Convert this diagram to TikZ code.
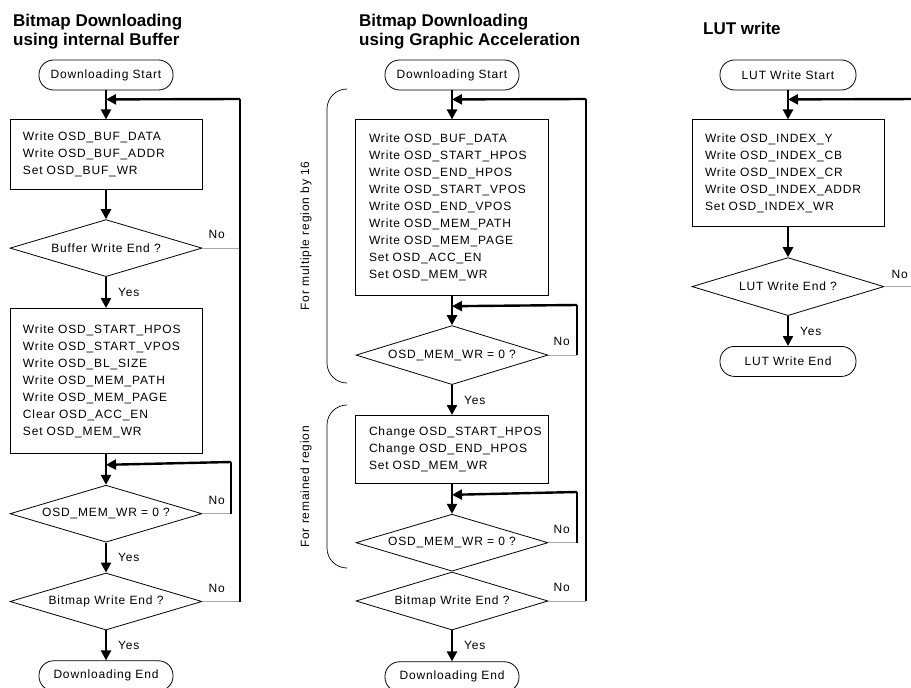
\documentclass[tikz,border=0pt]{standalone}
\usepackage{fontspec}
\setmainfont{Liberation Sans}
\newfontfamily\flowfont[LetterSpace=7]{Liberation Sans}
\usepackage{tikz}
\usetikzlibrary{positioning,arrows.meta,shapes.geometric,calc}
\definecolor{nogray}{HTML}{A8A8A8}
\newcommand{\boxfont}{\flowfont\fontsize{12}{17}\selectfont}
\newcommand{\titlefont}{\bfseries\fontsize{17}{18.5}\selectfont}
\tikzset{
  term/.style={draw, line width=0.8pt, rounded corners=14.5pt, minimum width=134pt, minimum height=30pt,
               inner sep=0pt, font=\boxfont},
  proc/.style={draw, line width=0.8pt, minimum width=192pt, text width=166pt, inner xsep=13pt, inner ysep=0pt,
               align=left, font=\boxfont},
  decide/.style={diamond, draw, line width=0.8pt, aspect=3.4, minimum width=192pt, minimum height=57pt,
                 inner sep=0pt, font=\boxfont},
  flow/.style={-{Triangle[length=10pt,width=10pt]}, line width=2.4pt},
  backline/.style={line width=1.1pt},
  noline/.style={draw=nogray, line width=0.5pt},
  lbl/.style={font=\boxfont, inner sep=0pt},
  ttl/.style={font=\titlefont, align=left, inner sep=0pt, anchor=north west},
  grp/.style={line width=0.7pt, rounded corners=20pt},
}

\begin{document}
\begin{tikzpicture}[x=1pt, y=-1pt]
  \useasboundingbox (0,0) rectangle (911,688);
  \clip (0,0) rectangle (911,688);

  \node[ttl] (t1) at (13,14) {Bitmap Downloading\\using internal Buffer};
  \node[ttl] (t2) at (359,14) {Bitmap Downloading\\using Graphic Acceleration};
  \node[ttl] (t3) at (703,22) {LUT write};

  % internal buffer
  \node[term] (s1) at (106,75) {Downloading Start};
  \node[proc, minimum height=70pt, below=29pt of s1] (b1) {Write OSD\_BUF\_DATA\\Write OSD\_BUF\_ADDR\\Set OSD\_BUF\_WR};
  \node[decide, below=29pt of b1] (d1) {Buffer Write End ?};
  \node[proc, minimum height=145pt, below=31pt of d1] (b2) {Write OSD\_START\_HPOS\\Write OSD\_START\_VPOS\\Write OSD\_BL\_SIZE\\
    Write OSD\_MEM\_PATH\\Write OSD\_MEM\_PAGE\\Clear OSD\_ACC\_EN\\Set OSD\_MEM\_WR};
  \node[decide, below=31pt of b2] (d2) {OSD\_MEM\_WR = 0 ?};
  \node[decide, below=30pt of d2] (d3) {Bitmap Write End ?};
  \node[term, below=30pt of d3] (e1) {Downloading End};

  \coordinate (j1) at ($(s1.south)+(0,9)$);
  \coordinate (j2) at ($(b2.south)+(0,11)$);
  \coordinate (r1) at (240,99);
  \coordinate (r2) at (231,462);
  \draw[flow] (s1) -- (b1);
  \draw[flow] (b1) -- (d1);
  \draw[flow] (d1) -- node[lbl, right=11pt] (y1) {Yes} (b2);
  \draw[flow] (b2) -- (d2);
  \draw[flow] (d2) -- node[lbl, right=11pt] (y2) {Yes} (d3);
  \draw[flow] (d3) -- node[lbl, right=11pt] (y3) {Yes} (e1);
  \draw[noline] (d1.east) -- (d1.east -| r1);
  \draw[noline] (d2.east) -- (d2.east -| r2);
  \draw[noline] (d3.east) -- (d3.east -| r1);
  \draw[backline] (d3.east -| r1) -- (r1);
  \draw[backline] (d2.east -| r2) -- (r2);
  \draw[flow] (r1) -- (j1);
  \draw[flow] (r2) -- (j2);
  \node[lbl, anchor=south west] (n1) at ($(d1.east)+(6,-9)$) {No};
  \node[lbl, anchor=south west] (n2) at ($(d2.east)+(6,-9)$) {No};
  \node[lbl, anchor=south west] (n3) at ($(d3.east)+(6,-9)$) {No};

  % graphic acceleration
  \node[term] (s2) at (452,75) {Downloading Start};
  \node[proc, minimum width=193pt, minimum height=176pt, below=29pt of s2] (m1) {Write OSD\_BUF\_DATA\\Write OSD\_START\_HPOS\\
    Write OSD\_END\_HPOS\\Write OSD\_START\_VPOS\\Write OSD\_END\_VPOS\\Write OSD\_MEM\_PATH\\Write OSD\_MEM\_PAGE\\
    Set OSD\_ACC\_EN\\Set OSD\_MEM\_WR};
  \node[decide, minimum height=59pt, below=29pt of m1] (md1) {OSD\_MEM\_WR = 0 ?};
  \node[proc, minimum width=193pt, minimum height=68pt, below=30pt of md1] (m2) {\mbox{Change OSD\_START\_HPOS}\\
    Change OSD\_END\_HPOS\\Set OSD\_MEM\_WR};
  \node[decide, below=30pt of m2] (md2) {OSD\_MEM\_WR = 0 ?};
  \node[decide, minimum height=58pt, below=0pt of md2] (md3) {Bitmap Write End ?};
  \node[term, below=31pt of md3] (e2) {Downloading End};

  \coordinate (j3) at ($(s2.south)+(0,9)$);
  \coordinate (j4) at ($(m1.south)+(0,10)$);
  \coordinate (j5) at ($(m2.south)+(0,11)$);
  \coordinate (r3) at (586,99);
  \coordinate (r4) at (577,305);
  \coordinate (r5) at (577,492);
  \draw[flow] (s2) -- (m1);
  \draw[flow] (m1) -- (md1);
  \draw[flow] (md1) -- node[lbl, right=11pt] (y4) {Yes} (m2);
  \draw[flow] (m2) -- (md2);
  \draw[flow] (md3) -- node[lbl, right=11pt] (y5) {Yes} (e2);
  \draw[noline] (md1.east) -- (md1.east -| r4);
  \draw[noline] (md2.east) -- (md2.east -| r5);
  \draw[noline] (md3.east) -- (md3.east -| r3);
  \draw[backline] (md1.east -| r4) -- (r4);
  \draw[backline] (md2.east -| r5) -- (r5);
  \draw[backline] (md3.east -| r3) -- (r3);
  \draw[flow] (r3) -- (j3);
  \draw[flow] (r4) -- (j4);
  \draw[flow] (r5) -- (j5);
  \node[lbl, anchor=south west] (n4) at ($(md1.east)+(5,-9)$) {No};
  \node[lbl, anchor=south west] (n5) at ($(md2.east)+(5,-9)$) {No};
  \node[lbl, anchor=south west] (n6) at ($(md3.east)+(5,-9)$) {No};

  \draw[grp] (347,89) -- (327,89) -- (327,383) -- (347,383);
  \draw[grp] (347,405) -- (327,405) -- (327,568) -- (347,568);
  \node[lbl, rotate=90] (g1) at (306,236) {For multiple region by 16};
  \node[lbl, rotate=90] (g2) at (306,487) {For remained region};

  % LUT
  \node[term, minimum width=136pt] (s3) at (788,75) {LUT Write Start};
  \node[proc, minimum height=107pt, below=29pt of s3] (l1) {Write OSD\_INDEX\_Y\\Write OSD\_INDEX\_CB\\Write OSD\_INDEX\_CR\\
    Write OSD\_INDEX\_ADDR\\Set OSD\_INDEX\_WR};
  \node[decide, minimum height=58pt, below=30pt of l1] (ld) {LUT Write End ?};
  \node[term, minimum width=136pt, below=30pt of ld] (e3) {LUT Write End};

  \coordinate (j6) at ($(s3.south)+(0,9)$);
  \coordinate (r6) at (920,99);
  \draw[flow] (s3) -- (l1);
  \draw[flow] (l1) -- (ld);
  \draw[flow] (ld) -- node[lbl, right=11pt] (y6) {Yes} (e3);
  \draw[noline] (ld.east) -- (ld.east -| r6);
  \draw[backline] (ld.east -| r6) -- (r6);
  \draw[flow] (r6) -- (j6);
  \node[lbl, anchor=south west] (n7) at ($(ld.east)+(7,-8)$) {No};
\end{tikzpicture}
\end{document}
